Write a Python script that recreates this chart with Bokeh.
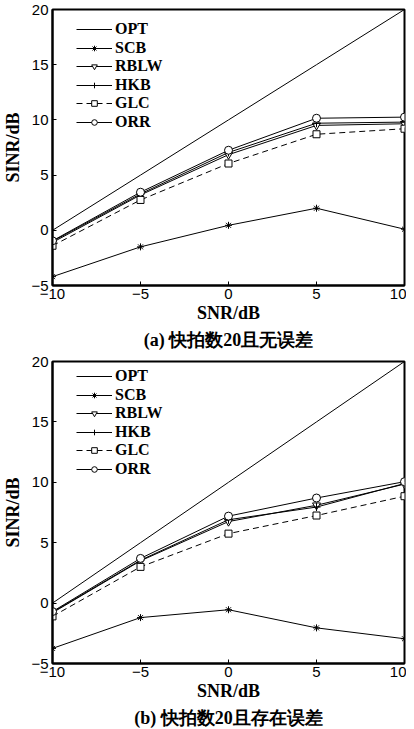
from bokeh.plotting import figure
from bokeh.layouts import column
from bokeh.models import FixedTicker, Range1d, Title, Legend, LegendItem
from bokeh.embed import file_html
from bokeh.resources import INLINE

snr = [-10, -5, 0, 5, 10]
x_ticks = [-10, -5, 0, 5, 10]
y_ticks = [-5, 0, 5, 10, 15, 20]

a_opt = [0, 5, 10, 15, 20]
a_scb = [-4.2, -1.5, 0.45, 2.0, 0.1]
a_rblw = [-1.1, 3.2, 6.85, 9.5, 9.65]
a_hkb = [-1.0, 3.3, 7.05, 9.7, 9.8]
a_glc = [-1.4, 2.75, 6.05, 8.7, 9.2]
a_orr = [-0.95, 3.45, 7.25, 10.15, 10.25]

b_opt = [0, 5, 10, 15, 20]
b_scb = [-3.75, -1.2, -0.55, -2.05, -2.95]
b_rblw = [-0.8, 3.5, 6.75, 8.1, 9.85]
b_hkb = [-0.75, 3.55, 6.9, 7.95, 9.9]
b_glc = [-1.1, 3.0, 5.75, 7.25, 8.85]
b_orr = [-0.7, 3.7, 7.2, 8.7, 10.05]

names = ["OPT", "SCB", "RBLW", "HKB", "GLC", "ORR"]
markers = [None, "asterisk", "inverted_triangle", "cross", "square", "circle"]
dashes = ["solid", "solid", "solid", "solid", "6 4", "solid"]

ITEM_H = 18


def make_plot(series, caption, frame_h, top_border, first_row, row_step):
    p = figure(frame_width=352, frame_height=frame_h, output_backend="svg",
               toolbar_location=None, min_border_left=44, min_border_right=2,
               min_border_top=top_border, min_border_bottom=0,
               x_range=Range1d(-10, 10), y_range=Range1d(-5, 20))
    p.xgrid.visible = False
    p.ygrid.visible = False
    p.outline_line_color = "black"
    p.outline_line_width = 2
    p.outline_line_alpha = 1
    for ax, ticks in ((p.xaxis[0], x_ticks), (p.yaxis[0], y_ticks)):
        ax.ticker = FixedTicker(ticks=ticks)
        ax.major_tick_in = 4
        ax.major_tick_out = 0
        ax.minor_tick_line_color = None
        ax.axis_line_color = "black"
        ax.axis_line_width = 2
        ax.major_tick_line_color = "black"
        ax.major_label_text_font = "Liberation Sans"
        ax.major_label_text_font_size = "15px"
        ax.major_label_text_color = "black"
        ax.axis_label_text_font = "Liberation Serif"
        ax.axis_label_text_font_style = "bold"
        ax.axis_label_text_font_size = "18px"
        ax.axis_label_text_color = "black"
    p.xaxis.axis_label = "SNR/dB"
    p.yaxis.axis_label = "SINR/dB"
    p.xaxis.major_label_standoff = 3
    p.xaxis.axis_label_standoff = 1
    p.yaxis.major_label_standoff = 4
    p.yaxis.axis_label_standoff = 5

    for i, (name, vals, mk, dash) in enumerate(zip(names, series, markers, dashes)):
        rs = [p.line(snr, vals, line_color="black", line_width=1, line_dash=dash)]
        if mk is not None:
            size = 7 if mk in ("asterisk", "square") else 8
            rs.append(p.scatter(snr, vals, marker=mk, size=size, line_color="black",
                                fill_color="white", line_width=1))
        row_center = first_row + i * row_step
        lg = Legend(items=[LegendItem(label=name, renderers=rs)],
                    location=(24, frame_h - row_center - ITEM_H / 2),
                    border_line_color=None, background_fill_alpha=0,
                    label_text_font="Liberation Serif",
                    label_text_font_style="bold",
                    label_text_font_size="16px",
                    label_text_color="black",
                    glyph_width=36, glyph_height=14, label_height=14,
                    label_standoff=3, margin=0, padding=0, spacing=0)
        p.add_layout(lg, "center")

    t = Title(text=caption, align="center", offset=5,
              text_font="Liberation Serif", text_font_style="bold",
              text_font_size="18px", text_color="black", standoff=4)
    p.add_layout(t, "below")
    return p


p1 = make_plot([a_opt, a_scb, a_rblw, a_hkb, a_glc, a_orr],
               "(a) 快拍数20且无误差", 276, 9, 20, 18.6)
p2 = make_plot([b_opt, b_scb, b_rblw, b_hkb, b_glc, b_orr],
               "(b) 快拍数20且存在误差", 302, 10, 15, 18.6)

layout = column(p1, p2, spacing=0)
open("out.html", "w").write(file_html(layout, INLINE))
